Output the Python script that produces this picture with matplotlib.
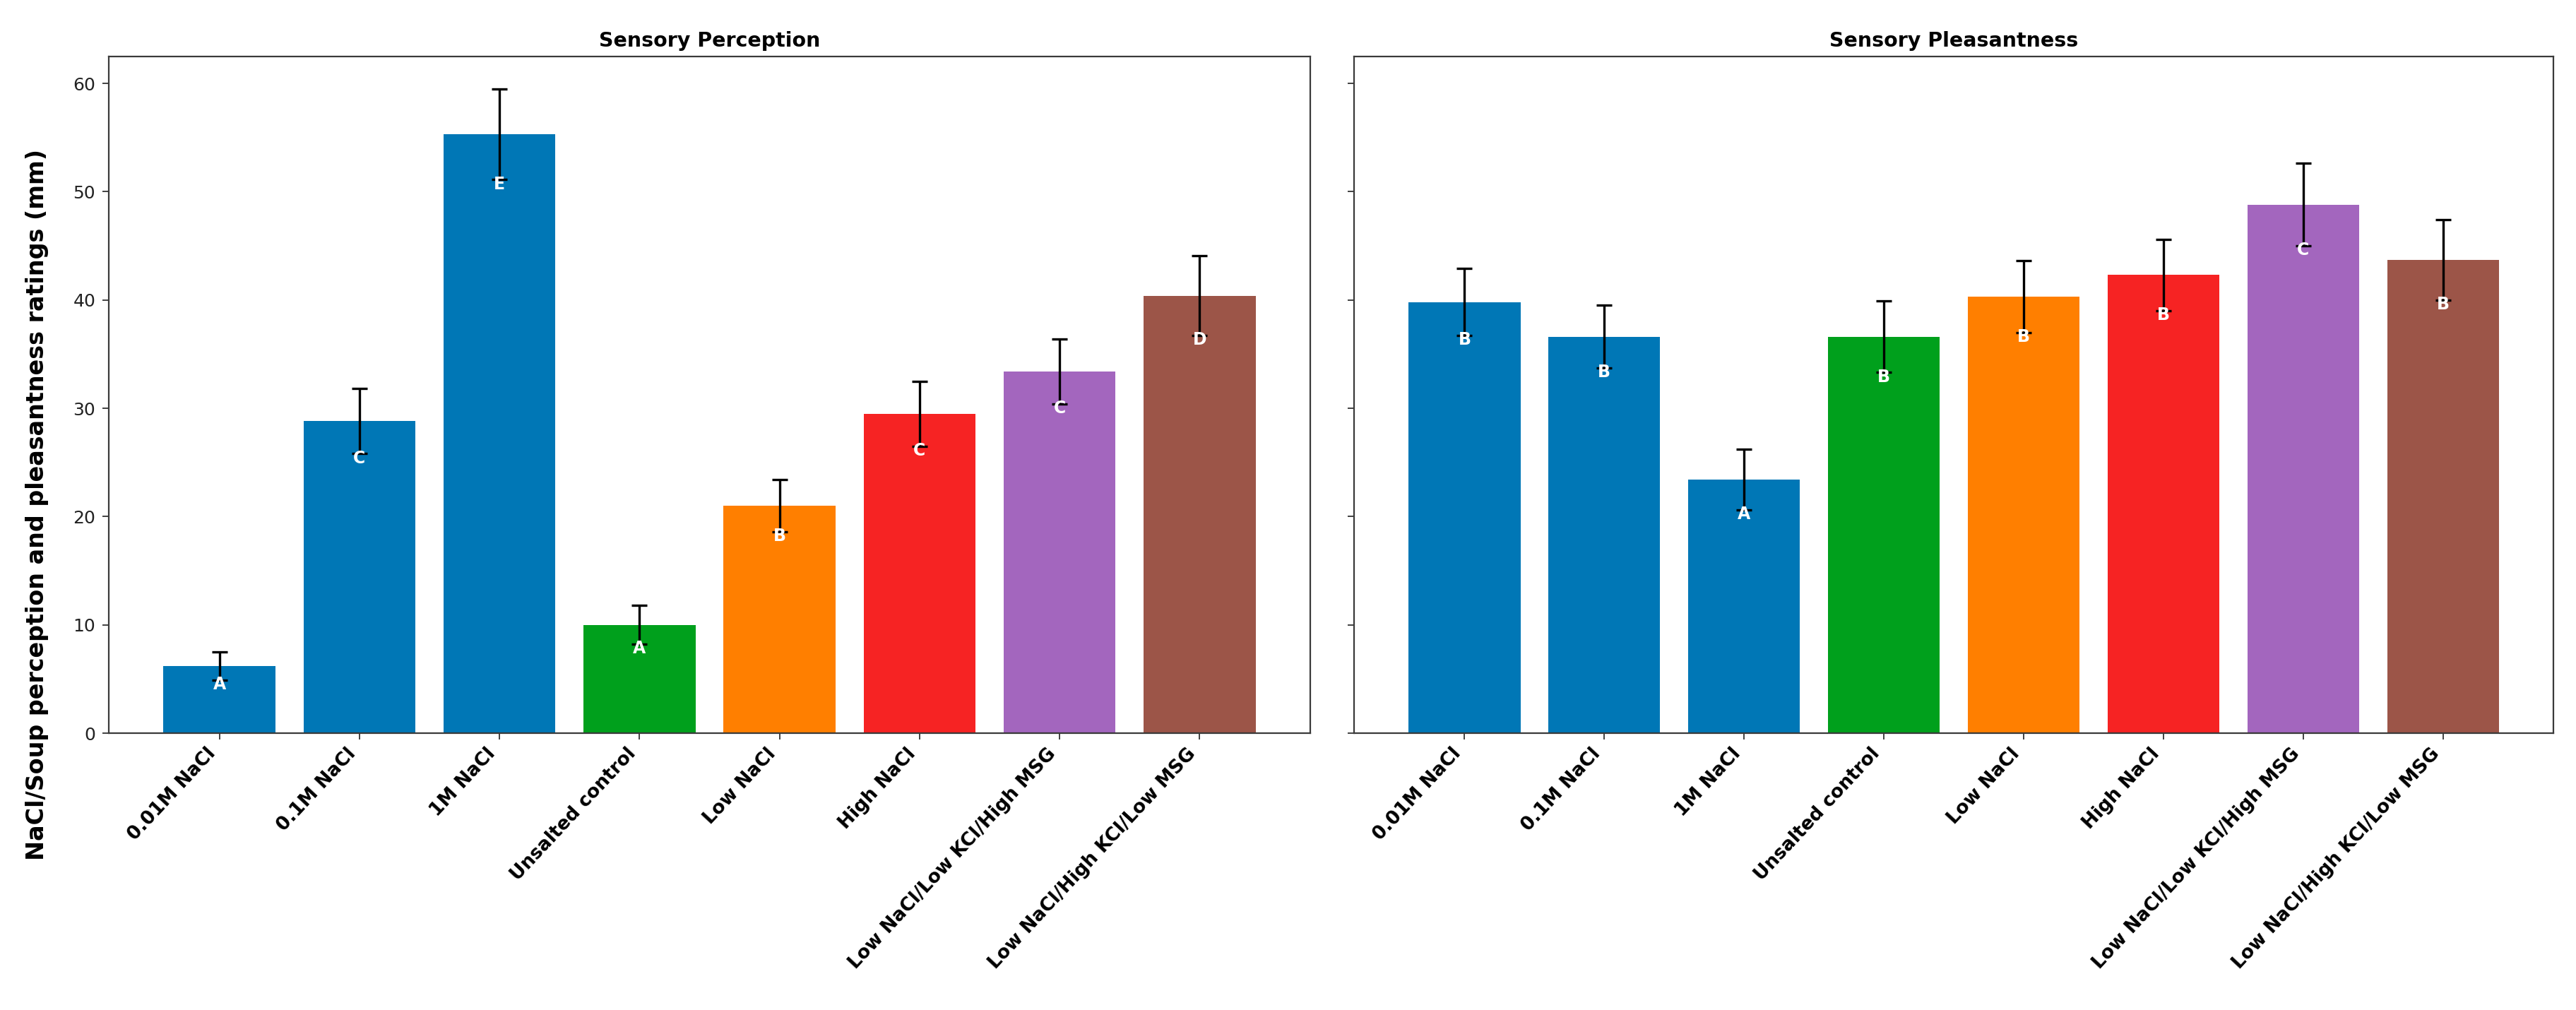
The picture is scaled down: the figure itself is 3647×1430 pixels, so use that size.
import matplotlib
matplotlib.use("Agg")
import matplotlib.pyplot as plt
import numpy as np

categories = ["0.01M NaCl", "0.1M NaCl", "1M NaCl", "Unsalted control", "Low NaCl",
              "High NaCl", "Low NaCl/Low KCl/High MSG", "Low NaCl/High KCl/Low MSG"]
perception = [6.2, 28.8, 55.3, 10.0, 21.0, 29.5, 33.4, 40.4]
perception_err = [1.3, 3.0, 4.2, 1.8, 2.4, 3.0, 3.0, 3.7]
perception_letters = ["A", "C", "E", "A", "B", "C", "C", "D"]
pleasantness = [39.8, 36.6, 23.4, 36.6, 40.3, 42.3, 48.8, 43.7]
pleasantness_err = [3.1, 2.9, 2.8, 3.3, 3.3, 3.3, 3.8, 3.7]
pleasantness_letters = ["B", "B", "A", "B", "B", "B", "C", "B"]
colors = ["#0077B6", "#0077B6", "#0077B6", "#00A01C", "#FF7F00", "#F62323", "#A366BE", "#9C5548"]
titles = ["Sensory Perception", "Sensory Pleasantness"]
ylabel = "NaCl/Soup perception and pleasantness ratings (mm)"

plt.rcParams["font.family"] = ["DejaVu Sans"]
fig = plt.figure(figsize=(36.48, 14.30), dpi=100)
ax1 = fig.add_axes([0.0422, 0.2741, 0.4663, 0.6699])
ax2 = fig.add_axes([0.5255, 0.2741, 0.4655, 0.6699], sharey=ax1)

x = np.arange(len(categories))
for ax, vals, errs, letters, title in [
    (ax1, perception, perception_err, perception_letters, titles[0]),
    (ax2, pleasantness, pleasantness_err, pleasantness_letters, titles[1]),
]:
    ax.bar(x, vals, width=0.8, color=colors, yerr=errs, capsize=8,
           error_kw=dict(elinewidth=2.4, capthick=2.4, ecolor="black"))
    for xi, v, e, l in zip(x, vals, errs, letters):
        ax.text(xi, v - e - 0.4, l, ha="center", va="center", color="white",
                fontsize=17, fontweight="bold", zorder=5)
    ax.set_title(title, fontsize=20.5, fontweight="bold", pad=10)
    ax.set_xticks(x)
    ax.set_xticklabels(categories, rotation=47, ha="right", fontsize=19, fontweight="bold")
    ax.tick_params(axis="both", length=6.5, width=1.3, color="#333333")
    ax.tick_params(axis="y", labelsize=18, pad=7, labelcolor="#222222")
    ax.tick_params(axis="x", pad=5)
    for s in ax.spines.values():
        s.set_linewidth(1.6)
        s.set_color("#3a3a3a")

ax1.set_yticks([0, 10, 20, 30, 40, 50, 60])
plt.setp(ax2.get_yticklabels(), visible=False)

fig.text(0.0145, 0.5, ylabel, rotation=90, ha="center", va="center",
         fontsize=24, fontweight="bold")

fig.savefig("out.png", dpi=100)
